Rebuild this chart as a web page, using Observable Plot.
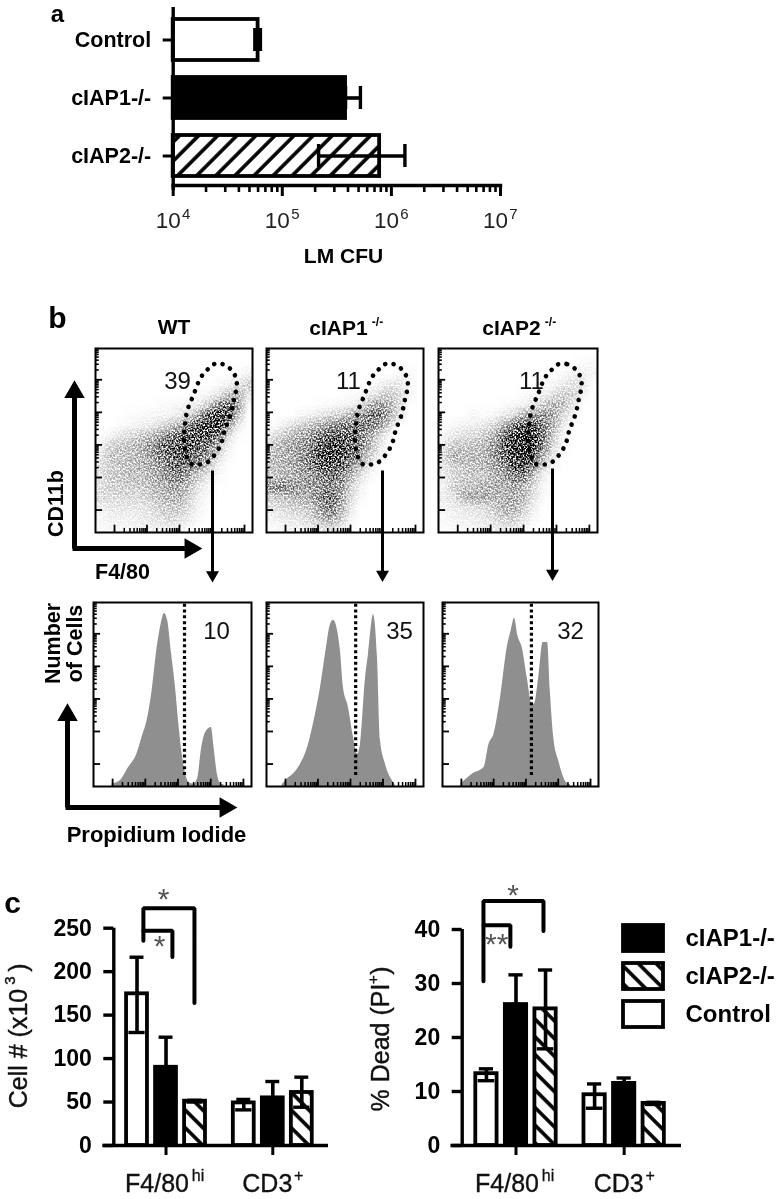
<!DOCTYPE html>
<html><head><meta charset="utf-8">
<script src="https://cdn.jsdelivr.net/npm/d3@7"></script>
<script src="https://cdn.jsdelivr.net/npm/@observablehq/plot@0.6"></script>
<style>
html,body{margin:0;padding:0;background:#fff}
#page{position:relative;width:779px;height:1199px;overflow:hidden;filter:blur(.55px);font-family:"Liberation Sans",Arial,sans-serif}
#page>svg,#page>figure{position:absolute;margin:0}
</style></head><body>
<svg width="0" height="0" style="position:absolute"><defs>
<pattern id="hatchF" width="13.5" height="13.5" patternUnits="userSpaceOnUse" patternTransform="rotate(45)"><rect width="13.5" height="13.5" fill="#fff"/><rect x="5" width="3.6" height="13.5" fill="#000"/></pattern>
<pattern id="hatchB" width="12.5" height="12.5" patternUnits="userSpaceOnUse" patternTransform="rotate(-45)"><rect width="12.5" height="12.5" fill="#fff"/><rect x="4" width="3.6" height="12.5" fill="#000"/></pattern>
<filter id="grain" x="0" y="0" width="100%" height="100%" color-interpolation-filters="sRGB">
 <feTurbulence type="fractalNoise" baseFrequency="0.6" numOctaves="2" seed="7" result="n"/>
 <feColorMatrix in="n" type="matrix" values="0 0 0 0 0  0 0 0 0 0  0 0 0 0 0  2.8 0 0 0 -0.85" result="a0"/>
 <feColorMatrix in="a0" type="matrix" values="0 0 0 1 0  0 0 0 1 0  0 0 0 1 0  0 0 0 0 1" result="noise"/>
 <feComposite in="SourceGraphic" in2="noise" operator="arithmetic" k1="1" k2="0" k3="-1" k4="1" result="sum"/>
 <feComponentTransfer in="sum"><feFuncR type="linear" slope="1.55" intercept="-0.55"/><feFuncG type="linear" slope="1.55" intercept="-0.55"/><feFuncB type="linear" slope="1.55" intercept="-0.55"/></feComponentTransfer>
</filter>
</defs></svg>
<div id="page"></div>
<script>
// ---------- panel a
const cfuGroups = ["Control", "cIAP1-/-", "cIAP2-/-"];
const cfuMeans = [6.0e4, 3.8e5, 7.8e5];
const cfuLow = [5.6e4, 3.8e5, 2.15e5];
const cfuHigh = [6.3e4, 5.2e5, 1.33e6];
const cfuDecades = [1e4, 1e5, 1e6, 1e7];
const cfuExponents = ["4", "5", "6", "7"];

// ---------- panel b: density of events on a 16 x 18 grid, read by eye (top row first, 0 = white, 1 = black)
const densityWT = [
 [0,0,0,0,0,0,0,0,0,0,0,0,0,0,0,0],
 [0,0,0,0,0,0,0,0,0,0,0,0,0,0,0,0],
 [0,0,0,0,0,0,0,0,0,0,0,0,0,0,.02,.05],
 [0,0,0,0,0,0,0,0,0,0,0,0,.02,.05,.1,.2],
 [0,0,0,0,0,0,0,0,0,0,.02,.04,.1,.25,.3,.1],
 [0,0,0,0,0,0,.01,.02,.04,.05,.08,.2,.45,.6,.4,.03],
 [0,0,0,.01,.02,.03,.04,.05,.08,.15,.35,.65,.85,.7,.25,0],
 [0,0,.02,.03,.05,.08,.12,.2,.3,.5,.7,.85,.85,.4,.08,0],
 [0,.05,.1,.15,.2,.25,.35,.5,.6,.7,.75,.75,.55,.15,.01,0],
 [.05,.18,.22,.25,.3,.4,.55,.65,.72,.7,.65,.55,.25,.05,0,0],
 [.1,.22,.25,.25,.3,.35,.5,.6,.7,.6,.55,.4,.12,.02,0,0],
 [.12,.2,.22,.25,.28,.32,.4,.55,.6,.5,.4,.2,.05,0,0,0],
 [.12,.2,.22,.25,.25,.3,.35,.45,.5,.35,.2,.08,.02,0,0,0],
 [.12,.18,.2,.2,.2,.25,.3,.35,.35,.25,.1,.03,0,0,0,0],
 [.15,.15,.15,.15,.15,.2,.25,.3,.3,.18,.06,.02,0,0,0,0],
 [.06,.1,.1,.1,.1,.12,.18,.22,.22,.12,.04,0,0,0,0,0],
 [.03,.06,.06,.06,.08,.1,.12,.18,.15,.08,.02,0,0,0,0,0],
 [.02,.03,.03,.04,.05,.06,.06,.06,.05,.02,0,0,0,0,0,0]
];
const densityIAP1 = [
 [0,0,0,0,0,0,0,0,0,0,0,0,0,0,0,0],
 [0,0,0,0,0,0,0,0,0,0,0,0,0,0,0,0],
 [0,0,0,0,0,0,0,0,0,0,0,0,0,.03,.03,0],
 [0,0,0,0,0,0,0,0,0,0,0,.05,.1,.1,.02,0],
 [0,0,0,0,0,0,0,0,.01,.02,.08,.15,.22,.15,.04,0],
 [0,0,0,0,0,.01,.02,.03,.05,.1,.3,.4,.3,.15,0,0],
 [0,0,0,.03,.06,.1,.15,.2,.3,.4,.55,.55,.35,.1,0,0],
 [0,.05,.12,.18,.25,.32,.42,.5,.5,.55,.5,.4,.15,0,0,0],
 [.1,.2,.28,.35,.42,.55,.65,.65,.65,.5,.35,.15,.03,0,0,0],
 [.2,.3,.35,.4,.5,.7,.85,.8,.65,.5,.3,.1,0,0,0,0],
 [.25,.3,.35,.42,.55,.75,.9,.8,.6,.4,.2,.05,0,0,0,0],
 [.25,.3,.32,.4,.5,.65,.7,.65,.45,.25,.08,0,0,0,0,0],
 [.22,.28,.3,.35,.42,.5,.55,.5,.3,.12,.03,0,0,0,0,0],
 [.45,.5,.45,.4,.4,.45,.5,.42,.2,.05,0,0,0,0,0,0],
 [.2,.25,.3,.3,.35,.5,.6,.4,.15,.03,0,0,0,0,0,0],
 [.12,.15,.18,.2,.25,.4,.5,.35,.1,0,0,0,0,0,0,0],
 [.05,.08,.1,.12,.18,.3,.38,.25,.05,0,0,0,0,0,0,0],
 [.02,.03,.05,.06,.08,.12,.15,.08,.02,0,0,0,0,0,0,0]
];
const densityIAP2 = [
 [0,0,0,0,0,0,0,0,0,0,0,0,0,0,0,0],
 [0,0,0,0,0,0,0,0,0,0,0,0,0,0,.02,.03],
 [0,0,0,0,0,0,0,0,0,0,0,0,.02,.05,.06,.03],
 [0,0,0,0,0,0,0,0,0,0,.02,.04,.08,.12,.1,0],
 [0,0,0,0,0,0,0,0,.01,.03,.06,.12,.2,.18,.05,0],
 [0,0,0,0,0,0,.01,.03,.05,.1,.2,.3,.25,.1,0,0],
 [0,0,0,.03,.01,.03,.08,.15,.3,.4,.42,.35,.15,.03,0,0],
 [0,.03,.05,.06,.1,.15,.3,.5,.7,.7,.5,.3,.08,0,0,0],
 [.03,.1,.13,.15,.2,.3,.55,.8,.95,.85,.55,.2,.03,0,0,0],
 [.1,.22,.22,.25,.28,.4,.6,.85,1,.85,.5,.15,.02,0,0,0],
 [.15,.3,.3,.28,.3,.4,.6,.85,.9,.65,.3,.08,0,0,0,0],
 [.1,.2,.22,.25,.28,.35,.45,.7,.75,.45,.15,.03,0,0,0,0],
 [.08,.15,.2,.22,.22,.3,.35,.5,.5,.25,.06,0,0,0,0,0],
 [.05,.18,.25,.25,.3,.32,.32,.35,.3,.15,.03,0,0,0,0,0],
 [.08,.12,.3,.35,.35,.3,.3,.35,.28,.12,.02,0,0,0,0,0],
 [.04,.08,.1,.12,.15,.2,.3,.32,.2,.06,0,0,0,0,0,0],
 [.02,.05,.06,.08,.1,.14,.2,.22,.12,.03,0,0,0,0,0,0],
 [.01,.02,.03,.04,.05,.08,.1,.1,.04,0,0,0,0,0,0,0]
];
const gateX = [75.5,80.9,86.2,89.4,90,88.3,86.2,82.3,79.8,75.5,71.3,66,61,58,56.4,56.8,58.5,62.3,67,71.3];
const gateY = [91.5,91.5,88.7,84.2,79.5,72.7,64.5,55.5,47.8,41.8,38.2,36.9,37.3,41.8,49.1,57.3,66.4,74.5,84.2,88.5];

const histWTx = [11.7,16.9,22.2,27.5,30.7,33.9,37.1,40.3,42.8,44.9,47,49.2,51.9,54,56.1,58.3,60.4,63.6,66.1,68.2,71,74.6,76.3,78.4,80.5,82.6];
const histWTy = [1.3,3.1,10.3,17.6,26.6,35.7,52,75.5,88.2,94,90,73.7,53.8,33.9,17.6,6.7,2.2,1.3,4.9,19.4,29.3,32,21.2,6.7,1.6,.9];
const histIAP1x = [10,12.1,20.4,26.1,29.9,34.4,37.6,40.8,42.7,47.1,49,52.2,55.4,58,59.9,63.1,65,68.2,70.7,72.6,75.8,80.3,82];
const histIAP1y = [1,3,10.3,21,34,53.8,72,88.2,90.4,73.7,53.8,43,26.6,17.6,23,59.2,72,93.3,70,24.8,12,3,1];
const histIAP2x = [11.7,19.1,26.6,29.8,33,37.2,41.5,44,46.2,48.3,51.1,54.3,57.4,58.9,61.7,64.5,67.4,69.1,71.3,74.5,79.4,82];
const histIAP2y = [1.3,6.7,10.3,23,28.4,48.4,75.5,84.6,91.5,81.9,75.5,59.2,44.7,44.7,59.2,78.3,78.3,52,26.6,14,2.2,1];
const histCut = [57.6, 56.8, 57];

// ---------- panel c
const groups = ["F4/80", "CD3"];
const groupSuperscripts = ["hi", "+"];
const genotypes = ["Control", "cIAP1-/-", "cIAP2-/-"];
const cellMeans = [174.5, 90, 51, 49, 54.8, 61];
const cellHigh = [216.6, 124.6, 52, 53, 73.6, 78.6];
const cellLow = [130, 90, 50, 41, 54.8, 44];
const deadMeans = [13.3, 26.1, 25.3, 9.4, 11.5, 7.8];
const deadHigh = [14.2, 31.6, 32.5, 11.4, 12.5, 8.0];
const deadLow = [12, 26.1, 17.9, 6.9, 11.5, 7.6];
const legendOrder = ["cIAP1-/-", "cIAP2-/-", "Control"];

// ---------- shared styling
const fills = {"Control":"#fff","cIAP1-/-":"#000","cIAP2-/-":"url(#hatchB)"};
const page = document.getElementById("page");
function place(node,left,top){node.style.left=left+"px";node.style.top=top+"px";node.style.position="absolute";node.style.overflow="visible";node.style.background="transparent";page.appendChild(node);}
const FONT = '"Liberation Sans",Arial,sans-serif';

// ---------- panel a plot
{
 const rows = cfuGroups.map((g,i)=>({g,v:cfuMeans[i],lo:cfuLow[i],hi:cfuHigh[i]}));
 const minor = d3.range(4,7).flatMap(e=>d3.range(2,10).map(m=>m*10**e));
 const f = {"Control":"#fff","cIAP1-/-":"#000","cIAP2-/-":"url(#hatchF)"};
 const p = Plot.plot({width:560,height:280,marginLeft:172.7,marginRight:60,marginTop:10,marginBottom:95,
  style:{fontFamily:FONT,color:"#000"},
  x:{type:"log",domain:[1e4,1e7],axis:null},
  y:{type:"band",domain:cfuGroups,paddingInner:.3,paddingOuter:.15,axis:null},
  color:{type:"identity"},
  marks:[
   Plot.barX(rows,{x1:()=>1e4,x2:"v",y:"g",fill:d=>f[d.g],stroke:"#000",strokeWidth:3.8}),
   Plot.ruleY(rows,{y:"g",x1:"lo",x2:"hi",strokeWidth:3.6}),
   Plot.tickX(rows,{x:"hi",y:"g",strokeWidth:3.4,insetTop:9,insetBottom:9}),
   Plot.tickX(rows,{x:"lo",y:"g",strokeWidth:3.4,insetTop:9,insetBottom:9}),
   Plot.ruleX([1e4],{strokeWidth:3.4,insetTop:-3,insetBottom:-5}),
   Plot.frame({anchor:"bottom",strokeWidth:3.4}),
   Plot.axisX({ticks:cfuDecades,tickSize:11,strokeWidth:3,tickFormat:()=>"",label:null}),
   Plot.axisX({ticks:minor,tickSize:7,strokeWidth:2.6,tickFormat:()=>"",label:null}),
   Plot.axisY({ticks:cfuGroups,tickSize:10,strokeWidth:3,tickPadding:12,fontSize:21.5,fontWeight:"bold",label:null}),
   Plot.text(cfuDecades,{x:d=>d,frameAnchor:"bottom",text:()=>"10",dy:35,dx:-5,fontSize:22.5,lineAnchor:"middle",fill:"#222"}),
   Plot.text(cfuDecades,{x:d=>d,frameAnchor:"bottom",text:(d,i)=>cfuExponents[i],dy:29,dx:13,fontSize:15,lineAnchor:"middle",fill:"#222"})
  ]});
 place(p,0,0);
}

// ---------- flow cytometry tick positions (log-spaced decade marks)
const decadeFactors = [2,3,4,5,6,7,8,9];
function majors(start,pitch){return d3.range(0,6).map(d=>start+pitch*d).filter(v=>v<=100);}
function minors(start,pitch,firstDecade){return d3.range(firstDecade,6).flatMap(d=>decadeFactors.map(m=>start+pitch*(d+Math.log10(m)))).filter(v=>v<=100);}
function flowTicks(){
 const xS=12.1,xP=20.7,yS=12.2,yP=17.7;
 return [
  Plot.ruleX(majors(xS,xP),{x:d=>d,y1:0,y2:4,strokeWidth:1.8}),
  Plot.ruleX(minors(xS,xP,0),{x:d=>d,y1:0,y2:2.2,strokeWidth:1.5}),
  Plot.ruleY(majors(yS,yP),{y:d=>d,x1:0,x2:4.5,strokeWidth:1.8}),
  Plot.ruleY(minors(yS,yP,1),{y:d=>d,x1:0,x2:2.4,strokeWidth:1.6})
 ];
}
// scatter panels
const gate = gateX.map((x,i)=>({x,y:gateY[i]}));
[[densityWT,95,348,157],[densityIAP1,266,348,157],[densityIAP2,438,348,159]].forEach(([grid,l,t,w])=>{
 const p = Plot.plot({width:w,height:184,margin:0,
  x:{domain:[0,100],axis:null},y:{domain:[0,100],axis:null},
  color:{type:"linear",domain:[0,1],range:["#ffffff","#000000"]},
  marks:[
   Plot.raster(grid.flat(),{width:16,height:18,x1:0,x2:100,y1:100,y2:0}),
   ...flowTicks(),
   Plot.line(gate,{x:"x",y:"y",curve:"catmull-rom-closed",stroke:"#000",strokeWidth:4.6,strokeLinecap:"round",strokeDasharray:"0.1,8.4"}),
   Plot.frame({stroke:"#000",strokeWidth:2})
  ]});
 p.querySelectorAll("image").forEach(im=>im.setAttribute("filter","url(#grain)"));
 place(p,l,t);
});
// histogram panels
[[histWTx,histWTy,93,158,0],[histIAP1x,histIAP1y,266,157,1],[histIAP2x,histIAP2y,442,156,2]].forEach(([hx,hy,l,w,i])=>{
 const rows = hx.map((x,k)=>({x,y:hy[k]}));
 const p = Plot.plot({width:w,height:184,margin:0,
  x:{domain:[0,100],axis:null},y:{domain:[0,100],axis:null},
  marks:[
   Plot.areaY(rows,{x:"x",y:"y",fill:"#8f8f8f",curve:"monotone-x"}),
   ...flowTicks(),
   Plot.ruleX([histCut[i]],{y1:6,y2:100,stroke:"#000",strokeWidth:3.2,strokeDasharray:"3,2.8"}),
   Plot.frame({stroke:"#000",strokeWidth:2})
  ]});
 place(p,l,602);
});

// ---------- panel c plots
function barPanel(means,hi,lo,yDomain,yTicks,opts,brackets,stars,left){
 const rows = means.map((v,i)=>{const g=Math.floor(i/3),k=i%3;return {slot:g*opts.gap+k,v,hi:hi[i],lo:lo[i],geno:genotypes[k]};});
 const groupSlots = groups.map((g,i)=>i*opts.gap+1);
 const baseDx = [-9,-5.5], supDx = [32,26], supDy = [30,30];
 const p = Plot.plot({width:opts.width,height:319,marginLeft:opts.ml,marginRight:opts.mr,marginTop:opts.mt,marginBottom:54,
  style:{fontFamily:FONT,color:"#000"},
  x:{domain:opts.xd,axis:null},y:{domain:yDomain,axis:null},color:{type:"identity"},
  marks:[
   Plot.rect(rows,{x1:d=>d.slot-.36,x2:d=>d.slot+.36,y1:()=>0,y2:"v",fill:d=>fills[d.geno],stroke:"#000",strokeWidth:3.8}),
   Plot.ruleX(rows,{x:"slot",y1:"lo",y2:"hi",strokeWidth:3.6}),
   Plot.ruleY(rows,{y:"hi",x1:d=>d.slot-.24,x2:d=>d.slot+.24,strokeWidth:3.4}),
   Plot.ruleY(rows,{y:"lo",x1:d=>d.slot-.28,x2:d=>d.slot+.28,strokeWidth:3.4}),
   Plot.ruleX([opts.xd[0]],{y1:yDomain[0],y2:yDomain[1],strokeWidth:3.4}),
   Plot.ruleY([0],{x1:opts.xd[0]-.38,x2:opts.xd[1],strokeWidth:3.4}),
   Plot.axisY({ticks:yTicks,tickSize:10,strokeWidth:3.4,tickPadding:12,fontSize:23,fontWeight:"bold",label:null}),
   Plot.axisX({ticks:groupSlots,tickSize:10,strokeWidth:3,tickFormat:()=>"",label:null}),
   ...groups.flatMap((g,i)=>[
     Plot.text([g],{x:()=>groupSlots[i],frameAnchor:"bottom",dx:baseDx[i],dy:38,fontSize:25,lineAnchor:"middle",fill:"#111",stroke:"#111",strokeWidth:.35}),
     Plot.text([groupSuperscripts[i]],{x:()=>groupSlots[i],frameAnchor:"bottom",dx:supDx[i],dy:supDy[i],fontSize:16,lineAnchor:"middle",fill:"#111",stroke:"#111",strokeWidth:.3})
   ]),
   ...brackets.map(b=>Plot.line(b,{x:"s",y:"v",stroke:"#000",strokeWidth:4,strokeLinejoin:"miter"})),
   ...stars.map(s=>Plot.text([s],{x:"s",y:"v",text:"t",fontSize:30,fill:"#555",lineAnchor:"middle"}))
  ]});
 place(p,left,880);
}
barPanel(cellMeans,cellHigh,cellLow,[0,250],[0,50,100,150,200,250],
 {width:340,ml:113.3,mr:12,mt:47.7,xd:[-.8,6.6],gap:3.68},
 [[{s:.22,v:235.6},{s:.22,v:273},{s:1.98,v:273},{s:1.98,v:164}],[{s:.22,v:247},{s:1.22,v:247},{s:1.22,v:217}]],
 [{s:.92,v:283,t:"*"},{s:.78,v:229,t:"*"}],0);
barPanel(deadMeans,deadHigh,deadLow,[0,40],[0,10,20,30,40],
 {width:409,ml:91.7,mr:98,mt:49,xd:[-.82,6.6],gap:3.66},
 [[{s:-.1,v:30.4},{s:-.1,v:45.3},{s:1.93,v:45.3},{s:1.93,v:39.7}],[{s:-.1,v:40.8},{s:.81,v:40.8},{s:.81,v:36.8}]],
 [{s:.9,v:46.3,t:"*"},{s:.35,v:37.2,t:"**"}],370);

// ---------- legend
{
 const rows = legendOrder.map(g=>({g}));
 const p = Plot.plot({width:160,height:116,marginLeft:3,marginRight:117,marginTop:0,marginBottom:0,
  style:{fontFamily:FONT,color:"#000"},
  x:{domain:[0,1],axis:null},y:{type:"band",domain:legendOrder,paddingInner:.31,paddingOuter:.155,axis:null},color:{type:"identity"},
  marks:[
   Plot.barX(rows,{x1:()=>0,x2:()=>1,y:"g",fill:d=>fills[d.g],stroke:"#000",strokeWidth:3.8}),
   Plot.text(rows,{x:()=>1,y:"g",text:"g",dx:22,textAnchor:"start",fontSize:24,fontWeight:"bold",lineAnchor:"middle"})
  ]});
 place(p,620,917.5);
}

// ---------- overlay: arrows and free labels
const shafts = [
 {x1:74,y1:548,x2:74,y2:392,w:5},{x1:72,y1:548,x2:190,y2:548,w:5},
 {x1:212,y1:470,x2:212,y2:576,w:3},{x1:382,y1:470,x2:382,y2:576,w:3},{x1:552,y1:468,x2:552,y2:574,w:3},
 {x1:67,y1:807,x2:67,y2:715,w:5},{x1:65,y1:807,x2:226,y2:807,w:5}
];
const bigHeads = [{x:74,y:391.5,a:0},{x:190,y:548,a:90},{x:67,y:714.5,a:0},{x:225,y:807,a:90}];
const smallHeads = [{x:212,y:574.5,a:180},{x:382,y:574,a:180},{x:552,y:573,a:180}];
const boldNotes = [
 {t:"a",x:57,y:14,s:24},{t:"b",x:57,y:318,s:30},{t:"c",x:12,y:903,s:30},
 {t:"LM CFU",x:343,y:256,s:21},
 {t:"WT",x:173.5,y:327,s:21},{t:"cIAP1",x:338,y:328,s:21},{t:"cIAP2",x:511,y:328,s:21},
 {t:"-/-",x:377,y:322,s:12},{t:"-/-",x:550,y:322,s:12},
 {t:"CD11b",x:56,y:503,s:21.5,r:-90},{t:"F4/80",x:122,y:572,s:21.5},
 {t:"Number",x:53,y:643,s:21.5,r:-90},{t:"of Cells",x:75,y:643,s:21.5,r:-90},
 {t:"Propidium Iodide",x:156,y:834,s:22}
];
const plainNotes = [
 {t:"39",x:177,y:381,s:24},{t:"11",x:348,y:381,s:24},{t:"11",x:531,y:381,s:24},
 {t:"10",x:216,y:631,s:24},{t:"35",x:399,y:631,s:24},{t:"32",x:570,y:631,s:24}
];
const axisNotes = [
 {t:"Cell # (x10",x:18,y:1048,s:25,r:-90},{t:"3",x:10,y:980,s:15,r:-90},{t:")",x:18,y:967,s:25,r:-90},
 {t:"% Dead (PI",x:380,y:1047,s:25,r:-90},{t:"+",x:373,y:979,s:15,r:-90},{t:")",x:380,y:970,s:25,r:-90}
];
{
 const p = Plot.plot({width:779,height:1199,margin:0,
  style:{fontFamily:FONT,color:"#000"},
  x:{domain:[0,779],range:[0,779],axis:null},y:{domain:[0,1199],range:[0,1199],axis:null},
  marks:[
   Plot.link(shafts,{x1:"x1",y1:"y1",x2:"x2",y2:"y2",strokeWidth:"w",stroke:"#000"}),
   Plot.dot(bigHeads,{x:"x",y:"y",rotate:"a",symbol:"triangle",r:7.6,fill:"#000"}),
   Plot.dot(smallHeads,{x:"x",y:"y",rotate:"a",symbol:"triangle",r:4.8,fill:"#000"}),
   Plot.text(boldNotes,{x:"x",y:"y",text:"t",fontSize:"s",rotate:d=>d.r||0,fontWeight:"bold",lineAnchor:"middle"}),
   Plot.text(plainNotes,{x:"x",y:"y",text:"t",fontSize:"s",fill:"#111",lineAnchor:"middle"}),
   Plot.text(axisNotes,{x:"x",y:"y",text:"t",fontSize:"s",rotate:d=>d.r||0,fill:"#111",stroke:"#111",strokeWidth:.4,lineAnchor:"middle"})
  ]});
 p.style.pointerEvents="none";
 place(p,0,0);
}
</script>
</body></html>
